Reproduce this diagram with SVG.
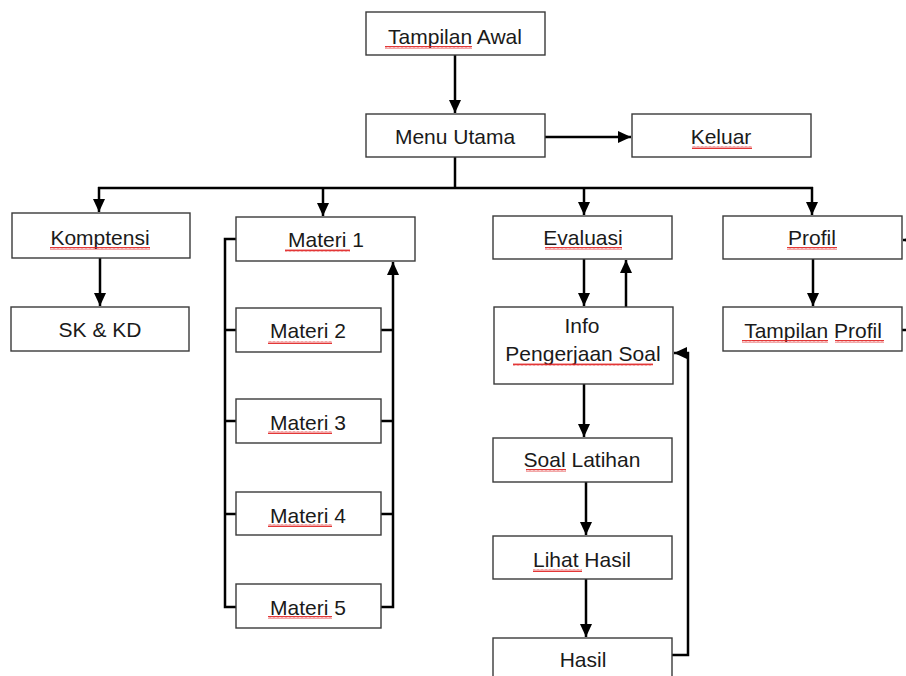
<svg xmlns="http://www.w3.org/2000/svg" width="906" height="676" viewBox="0 0 906 676">
<defs>
<marker id="ah" markerUnits="userSpaceOnUse" markerWidth="14" markerHeight="14" viewBox="0 0 14 14" refX="13" refY="7" orient="auto">
<path d="M0,1 L13,7 L0,13 Z" fill="#000"/>
</marker>
<pattern id="sq" width="4" height="3" patternUnits="userSpaceOnUse">
<path d="M0,2.5 L1,0.5 L2,2.5 L3,0.5 L4,2.5" fill="none" stroke="#e02020" stroke-width="0.9"/>
</pattern>
<style>
.box{fill:#fff;stroke:#3a3a3a;stroke-width:1.4}
.t{font-family:"Liberation Sans",Arial,sans-serif;font-size:21px;fill:#1a1a1a;text-anchor:middle}
.c{fill:none;stroke:#000;stroke-width:2.5}
.a{marker-end:url(#ah)}
.sq{fill:url(#sq)}
</style>
</defs>
<rect width="906" height="676" fill="#fff"/>
<g id="connectors">
<path class="c a" d="M455,55 V113"/>
<path class="c a" d="M545,137 H631"/>
<path class="c" d="M455,157 V188"/>
<path class="c" d="M98,188 H813"/>
<path class="c a" d="M99,187 V212"/>
<path class="c a" d="M323,187 V216"/>
<path class="c a" d="M584,187 V215"/>
<path class="c a" d="M812,187 V215"/>
<path class="c a" d="M100,258 V306"/>
<path class="c" d="M236,239 H225 V607 H236"/>
<path class="c" d="M225,330 H236 M225,421 H236 M225,514 H236"/>
<path class="c" d="M381,330 H393 M381,421 H393 M381,514 H393"/>
<path class="c a" d="M381,607 H393 V262"/>
<path class="c a" d="M584,259 V306"/>
<path class="c a" d="M626,307 V260"/>
<path class="c a" d="M584,384 V437"/>
<path class="c a" d="M586,482 V535"/>
<path class="c a" d="M586,579 V637"/>
<path class="c a" d="M672,655 H688 V353 H674"/>
<path class="c a" d="M813,259 V306"/>
<path class="c a" d="M902,330 H915 V240 H903"/>
</g>
<g id="tampilan-awal"><rect class="box" x="366" y="12" width="179" height="43"/><text class="t" x="455" y="44">Tampilan Awal</text></g>
<g id="menu-utama"><rect class="box" x="366" y="114" width="179" height="43"/><text class="t" x="455" y="144">Menu Utama</text></g>
<g id="keluar"><rect class="box" x="632" y="114" width="179" height="43"/><text class="t" x="721" y="144">Keluar</text></g>
<g id="komptensi"><rect class="box" x="12" y="213" width="178" height="45"/><text class="t" x="100" y="245">Komptensi</text></g>
<g id="sk-kd"><rect class="box" x="11" y="307" width="178" height="44"/><text class="t" x="100" y="337">SK &amp; KD</text></g>
<g id="materi-1"><rect class="box" x="236" y="217" width="179" height="44"/><text class="t" x="326" y="247">Materi 1</text></g>
<g id="materi-2"><rect class="box" x="236" y="308" width="145" height="44"/><text class="t" x="308" y="338">Materi 2</text></g>
<g id="materi-3"><rect class="box" x="236" y="399" width="145" height="44"/><text class="t" x="308" y="430">Materi 3</text></g>
<g id="materi-4"><rect class="box" x="236" y="492" width="145" height="43"/><text class="t" x="308" y="523">Materi 4</text></g>
<g id="materi-5"><rect class="box" x="236" y="584" width="145" height="44"/><text class="t" x="308" y="615">Materi 5</text></g>
<g id="evaluasi"><rect class="box" x="493" y="216" width="179" height="43"/><text class="t" x="583" y="245">Evaluasi</text></g>
<g id="info"><rect class="box" x="494" y="307" width="179" height="77"/><text class="t" x="582" y="333">Info</text><text class="t" x="583" y="361">Pengerjaan Soal</text></g>
<g id="soal-latihan"><rect class="box" x="493" y="438" width="179" height="44"/><text class="t" x="582" y="467">Soal Latihan</text></g>
<g id="lihat-hasil"><rect class="box" x="493" y="536" width="179" height="43"/><text class="t" x="582" y="567">Lihat Hasil</text></g>
<g id="hasil"><rect class="box" x="493" y="638" width="179" height="50"/><text class="t" x="583" y="667">Hasil</text></g>
<g id="profil"><rect class="box" x="723" y="216" width="179" height="43"/><text class="t" x="812" y="245">Profil</text></g>
<g id="tampilan-profil"><rect class="box" x="723" y="307" width="179" height="44"/><text class="t" x="813" y="338">Tampilan Profil</text></g>
<g id="spellcheck">
<rect class="sq" x="385" y="46" width="87" height="3"/>
<rect class="sq" x="692" y="146" width="60" height="3"/>
<rect class="sq" x="50" y="247" width="100" height="3"/>
<rect class="sq" x="285" y="249" width="65" height="3"/>
<rect class="sq" x="268" y="341" width="64" height="3"/>
<rect class="sq" x="268" y="431" width="64" height="3"/>
<rect class="sq" x="268" y="524" width="64" height="3"/>
<rect class="sq" x="268" y="616" width="64" height="3"/>
<rect class="sq" x="545" y="247" width="77" height="3"/>
<rect class="sq" x="513" y="363" width="140" height="3"/>
<rect class="sq" x="787" y="247" width="50" height="3"/>
<rect class="sq" x="742" y="340" width="86" height="3"/>
<rect class="sq" x="835" y="340" width="49" height="3"/>
<rect class="sq" x="526" y="469" width="40" height="3"/>
<rect class="sq" x="533" y="569" width="49" height="3"/>
</g>
</svg>
